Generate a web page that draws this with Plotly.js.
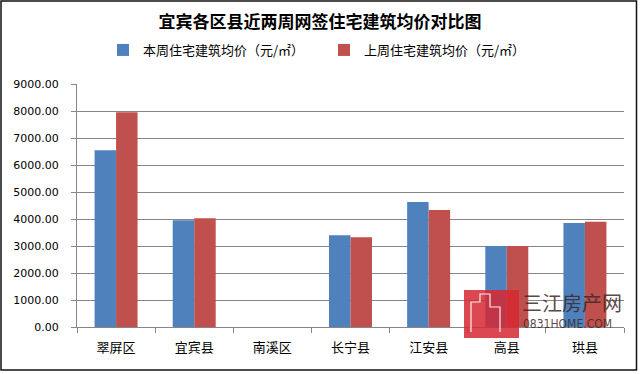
<!DOCTYPE html>
<html><head><meta charset="utf-8">
<script src="https://cdn.plot.ly/plotly-3.0.1.min.js"></script>
<style>body{margin:0;background:#fff}#c{width:640px;height:374px}</style>
</head><body><div id="c"></div>
<script>
const categories = ['翠屏区','宜宾县','南溪区','长宁县','江安县','高县','珙县'];
const thisWeek = [6550, 3950, null, 3400, 4630, 3000, 3850];
const lastWeek = [7950, 4030, null, 3320, 4330, 3000, 3900];
const seriesNames = ['本周住宅建筑均价（元/㎡）','上周住宅建筑均价（元/㎡）'];
const titleText = '宜宾各区县近两周网签住宅建筑均价对比图';

const W=640,H=374,ml=77,mr=16,mt=84,mb=47;
const pw=W-ml-mr, ph=H-mt-mb;
const px = v => (v-ml)/pw;
const py = v => (H-mb-v)/ph;

const cjk = '"Noto Sans CJK SC", sans-serif';
const data = [
 {type:'bar', name:seriesNames[0], x:categories, y:thisWeek, marker:{color:'#4F81BD', line:{width:0}}},
 {type:'bar', name:seriesNames[1], x:categories, y:lastWeek, marker:{color:'#C0504D', line:{width:0}}}
];
const layout = {
 width:W, height:H, margin:{l:ml,r:mr,t:mt,b:mb},
 paper_bgcolor:'#fff', plot_bgcolor:'#fff',
 title:{text:'<b>'+titleText+'</b>', font:{family:cjk,size:17,color:'#000'}, x:0.5, xanchor:'center', y:1-22/H, yanchor:'middle'},
 barmode:'group', bargap:0.45, bargroupgap:0,
 showlegend:true,
 legend:{orientation:'h', x:px(103), xanchor:'left', y:py(50), yanchor:'middle', font:{family:cjk,size:13,color:'#000'}, entrywidth:176, itemwidth:30},
 xaxis:{type:'category', showline:true, linecolor:'#868686', linewidth:1, ticks:'outside', tickson:'boundaries', ticklen:5, tickcolor:'#868686',
   ticklabelstandoff:8,
   tickfont:{family:cjk,size:13,color:'#000'}, showgrid:false, fixedrange:true},
 yaxis:{range:[0,9000], dtick:1000, tickformat:'.2f', showline:true, linecolor:'#868686', gridcolor:'#868686', gridwidth:1,
   ticks:'outside', ticklen:5, tickcolor:'#868686', ticklabelstandoff:10,
   tickfont:{family:'Verdana, "DejaVu Sans", sans-serif',size:11,color:'#000'}, zeroline:false},
 shapes:[
  {type:'rect', xref:'paper', yref:'paper', x0:px(1), x1:px(636.5), y0:py(1), y1:py(370), line:{color:'#111', width:1.5}, fillcolor:'rgba(0,0,0,0)'},
  {type:'rect', xref:'paper', yref:'paper', x0:px(464), x1:px(519), y0:py(290), y1:py(338), line:{width:0}, fillcolor:'rgba(214,40,50,0.85)', layer:'above'},
  {type:'path', xref:'paper', yref:'paper', path:'M '+px(471)+','+py(332)+' L '+px(471)+','+py(302)+' L '+px(480)+','+py(302)+' L '+px(480)+','+py(294)+' L '+px(490)+','+py(294)+' L '+px(490)+','+py(307)+' L '+px(500)+','+py(307)+' L '+px(500)+','+py(332), line:{color:'rgba(255,255,255,0.9)', width:1.2}, layer:'above'}
 ],
 annotations:[
  {xref:'paper', yref:'paper', x:px(520), y:py(302), xanchor:'left', yanchor:'middle', text:'三江房产网', showarrow:false, font:{family:cjk,size:20,color:'rgba(60,40,40,0.85)'}},
  {xref:'paper', yref:'paper', x:px(521), y:py(324), xanchor:'left', yanchor:'middle', text:'0831HOME.COM', showarrow:false, font:{family:'"Liberation Sans Narrow","DejaVu Sans Condensed",sans-serif',size:12,color:'rgba(60,40,40,0.85)'}}
 ]
};
Plotly.newPlot('c', data, layout, {displayModeBar:false, staticPlot:true});
</script></body></html>
